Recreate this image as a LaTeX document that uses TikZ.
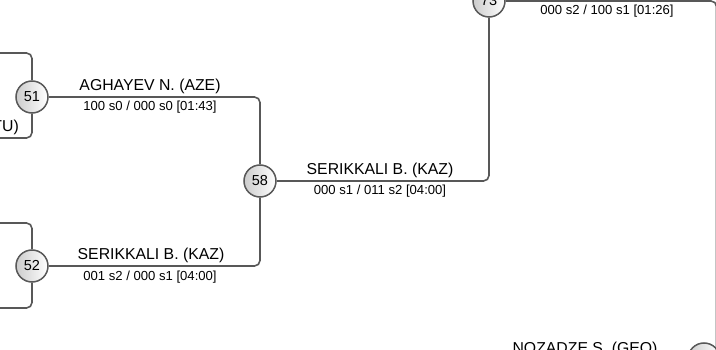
\documentclass[tikz,border=0pt]{standalone}
\usepackage{fontspec}
\setmainfont{Liberation Sans}
\usetikzlibrary{calc,positioning}
\definecolor{wire}{HTML}{585858}
\tikzset{
  wire/.style={draw=wire, line width=1.6pt, rounded corners=5.5pt},
  bout/.style={circle, draw=wire, line width=1.5pt, minimum size=32pt, inner sep=0pt,
    left color=black!20, right color=white, font=\fontsize{14.5}{16}\selectfont},
  winner/.style={anchor=base, inner sep=0pt, font=\fontsize{15.8}{18}\selectfont},
  score/.style={anchor=base, inner sep=0pt, font=\fontsize{13.1}{15}\selectfont}
}
\begin{document}
\begin{tikzpicture}[x=1pt, y=-1pt]
  \useasboundingbox (0,0) rectangle (716,350);
  % bouts
  \node[bout] (m51) at (32,97)  {51};
  \node[bout] (m52) at (32,266) {52};
  \node[bout] (m58) at (260,181) {58};
  \node[bout] (m73) at (489,1)  {73};
  \node[bout] (m80) at (704,359) {};
  % loose ends
  \coordinate (in51a) at (-10,53);
  \coordinate (in51b) at (-10,138);
  \coordinate (in52a) at (-10,223);
  \coordinate (in52b) at (-10,308);
  \coordinate (out73) at (716.5,380);
  % winners and scores
  \node[winner, anchor=base east] (w51b) at (19,132) {TU)};
  \node[winner] (w51) at ($(m51)+(118,-6)$) {AGHAYEV N. (AZE)};
  \node[score]  (s51) at ($(m51)+(118,14)$) {100 s0 / 000 s0 [01:43]};
  \node[winner] (w52) at ($(m52)+(119,-6)$) {SERIKKALI B. (KAZ)};
  \node[score]  (s52) at ($(m52)+(118,14)$) {001 s2 / 000 s1 [04:00]};
  \node[winner] (w58) at ($(m58)+(120,-6)$) {SERIKKALI B. (KAZ)};
  \node[score]  (s58) at ($(m58)+(120,14)$) {000 s1 / 011 s2 [04:00]};
  \node[score]  (s73) at ($(m73)+(118,14)$) {000 s2 / 100 s1 [01:26]};
  \node[winner] (w80) at ($(m80)+(-119,-6)$) {NOZADZE S. (GEO)};
  % bracket wiring
  \draw[wire] (in51a) -| (m51);
  \draw[wire] (in51b) -| (m51);
  \draw[wire] (in52a) -| (m52);
  \draw[wire] (in52b) -| (m52);
  \draw[wire] (m51) -| (m58);
  \draw[wire] (m52) -| (m58);
  \draw[wire] (m58) -| (m73);
  \draw[wire] (m73) -| (out73);
\end{tikzpicture}
\end{document}
